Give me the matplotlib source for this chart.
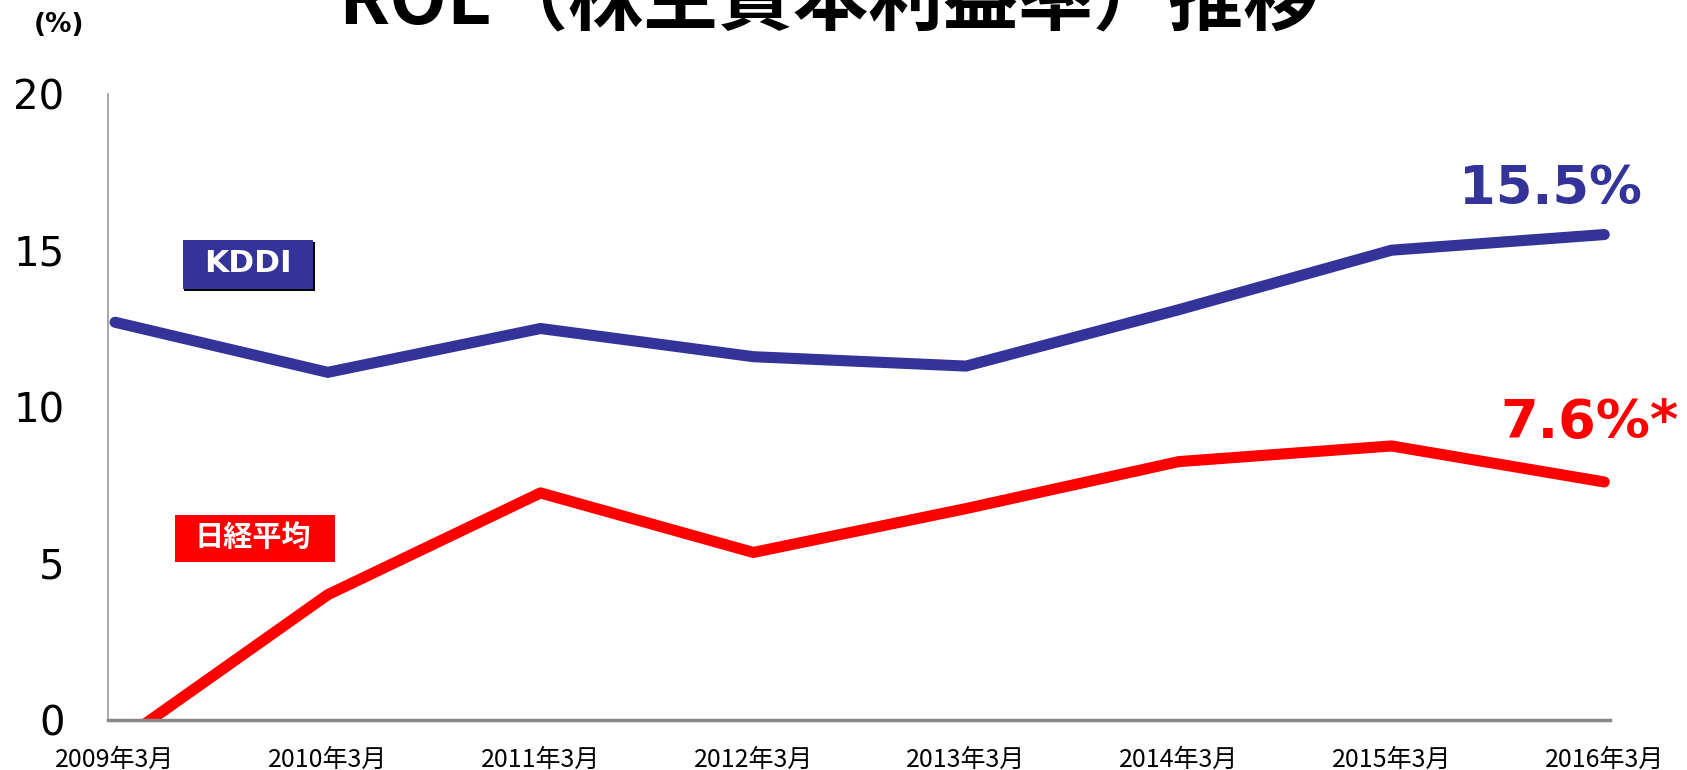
import matplotlib
matplotlib.use("Agg")
import matplotlib.pyplot as plt
from matplotlib.patches import Rectangle

plt.rcParams['font.family'] = ['Noto Sans CJK JP', 'DejaVu Sans']

categories = ["2009年3月", "2010年3月", "2011年3月", "2012年3月",
              "2013年3月", "2014年3月", "2015年3月", "2016年3月"]
kddi = [12.7, 11.1, 12.5, 11.6, 11.3, 13.1, 15.0, 15.5]
nikkei = [-0.8, 4.0, 7.25, 5.35, 6.75, 8.25, 8.75, 7.6]
yticks = [0, 5, 10, 15, 20]
title = "ROE（株主資本利益率）推移"

BLUE = "#333399"
RED = "#FF0000"

W, H = 1687, 770
fig = plt.figure(figsize=(W / 100, H / 100), dpi=100)
ax = fig.add_axes([107.6 / W, 1 - 720 / H, (1610 - 107.6) / W, (720 - 93.6) / H])

x = list(range(len(categories)))
ax.plot(x, kddi, color=BLUE, lw=8, solid_capstyle='round', solid_joinstyle='round')
ax.plot(x, nikkei, color=RED, lw=8, solid_capstyle='round', solid_joinstyle='round')

ax.set_xlim(-0.035, 7.027)
ax.set_ylim(0, 20)
ax.set_yticks(yticks)
ax.set_yticklabels([str(v) for v in yticks], fontsize=29, family=['DejaVu Sans'])
ax.set_xticks(x)
ax.set_xticklabels(categories, fontsize=18)
ax.tick_params(axis='y', length=0, pad=31)
ax.tick_params(axis='x', length=0, pad=19)

for s in ['top', 'right']:
    ax.spines[s].set_visible(False)
ax.spines['left'].set_color('#999999')
ax.spines['left'].set_linewidth(1.2)
ax.spines['bottom'].set_color('#888888')
ax.spines['bottom'].set_linewidth(2.5)

def fx(p):
    return p / W

def fy(p):
    return 1 - p / H

# Title (cut off at top of canvas)
fig.text(fx(828), fy(24), title, ha='center', va='baseline', fontsize=54,
         fontweight='bold', color='black')
fig.text(fx(59), fy(25), "(%)", ha='center', va='center', fontsize=19,
         fontweight='bold', family=['DejaVu Sans'])

# Legend boxes
fig.patches.append(Rectangle((fx(184), fy(291)), fx(131), 49 / H, transform=fig.transFigure,
                             facecolor='black', edgecolor='none'))
fig.patches.append(Rectangle((fx(183), fy(289)), fx(130), 49 / H, transform=fig.transFigure,
                             facecolor=BLUE, edgecolor='none'))
fig.text(fx(248), fy(264), "KDDI", ha='center', va='center', color='white',
         fontsize=22.5, fontweight='bold', family=['DejaVu Sans'])

fig.patches.append(Rectangle((fx(175), fy(562)), fx(160), 47 / H, transform=fig.transFigure,
                             facecolor=RED, edgecolor='none'))
fig.text(fx(253), fy(537), "日経平均", ha='center', va='center', color='white',
         fontsize=21, fontweight='bold')

# End value labels
fig.text(fx(1550), fy(204), f"{kddi[-1]:.1f}%", ha='center', va='baseline', color=BLUE,
         fontsize=38, fontweight='bold', family=['DejaVu Sans'])
fig.text(fx(1590), fy(438), f"{nikkei[-1]:.1f}%*", ha='center', va='baseline', color=RED,
         fontsize=39, fontweight='bold', family=['DejaVu Sans'])

fig.savefig("out.png", dpi=100)
